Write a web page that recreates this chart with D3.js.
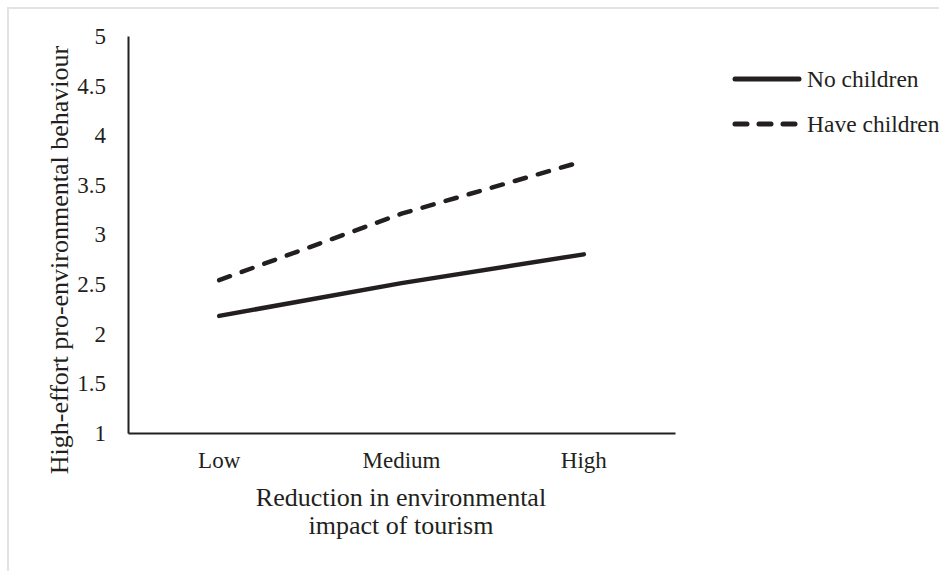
<!DOCTYPE html>
<html>
<head>
<meta charset="utf-8">
<script src="https://cdn.jsdelivr.net/npm/d3@7"></script>
<style>
  html, body { margin: 0; padding: 0; background: #fff; }
  svg text { font-family: "Liberation Serif", "Times New Roman", serif; fill: #231f20; }
</style>
</head>
<body>
<svg id="chart" width="939" height="571"></svg>
<script>
const categories = ["Low", "Medium", "High"];
const noChildren = [2.18, 2.51, 2.80];
const haveChildren = [2.54, 3.21, 3.74];
const yTicks = [1, 1.5, 2, 2.5, 3, 3.5, 4, 4.5, 5];
const seriesNames = ["No children", "Have children"];

(function () {
const svg = d3.select("#chart");
const ink = "#231f20";
const dash = "11.5 12.5";

// light frame
svg.append("path")
  .attr("d", "M8,571 V8 H939")
  .attr("fill", "none").attr("stroke", "#e3e3e3").attr("stroke-width", 2);

const mLeft = 128, mRight = 675, mTop = 36, mBottom = 433;
const x = d3.scaleBand().domain(categories).range([mLeft, mRight]);
const y = d3.scaleLinear().domain([1, 5]).range([mBottom, mTop]);

// y axis
const yAxis = svg.append("g").attr("transform", `translate(${mLeft},0)`)
  .call(d3.axisLeft(y).tickValues(yTicks).tickSize(0).tickPadding(22).tickFormat(d3.format("")));
yAxis.select(".domain").attr("stroke", ink).attr("stroke-width", 2);
yAxis.selectAll("text").style("font-size", "23px").attr("fill", ink);

// x axis
const xAxis = svg.append("g").attr("transform", `translate(0,${mBottom})`)
  .call(d3.axisBottom(x).tickSize(0));
xAxis.select(".domain").attr("stroke", ink).attr("stroke-width", 2);
xAxis.selectAll("text").style("font-size", "23px").attr("fill", ink).attr("y", 35).attr("dy", 0);

// lines
const line = d3.line().x((d, i) => x(categories[i]) + x.bandwidth() / 2).y(d => y(d));
svg.append("path").datum(noChildren).attr("d", line)
  .attr("fill", "none").attr("stroke", ink).attr("stroke-width", 4.5).attr("stroke-linecap", "round");
svg.append("path").datum(haveChildren).attr("d", line)
  .attr("fill", "none").attr("stroke", ink).attr("stroke-width", 4.5).attr("stroke-linecap", "round")
  .attr("stroke-dasharray", dash);

// axis titles
svg.append("text")
  .attr("transform", `translate(68,260) rotate(-90)`)
  .attr("text-anchor", "middle").style("font-size", "26px")
  .text("High-effort pro-environmental behaviour");
const xt = svg.append("text").attr("text-anchor", "middle").style("font-size", "26px");
xt.append("tspan").attr("x", 401).attr("y", 506).text("Reduction in environmental");
xt.append("tspan").attr("x", 401).attr("y", 534).text("impact of tourism");

// legend
const legend = svg.append("g");
seriesNames.forEach((name, i) => {
  const ly = 79 + i * 45;
  legend.append("line").attr("x1", 735).attr("x2", 799).attr("y1", ly).attr("y2", ly)
    .attr("stroke", ink).attr("stroke-width", 5).attr("stroke-linecap", "round")
    .attr("stroke-dasharray", i === 1 ? "12 12" : null);
  legend.append("text").attr("x", 807).attr("y", ly + 8).style("font-size", "23.5px").text(name);
});
})();
</script>
</body>
</html>
